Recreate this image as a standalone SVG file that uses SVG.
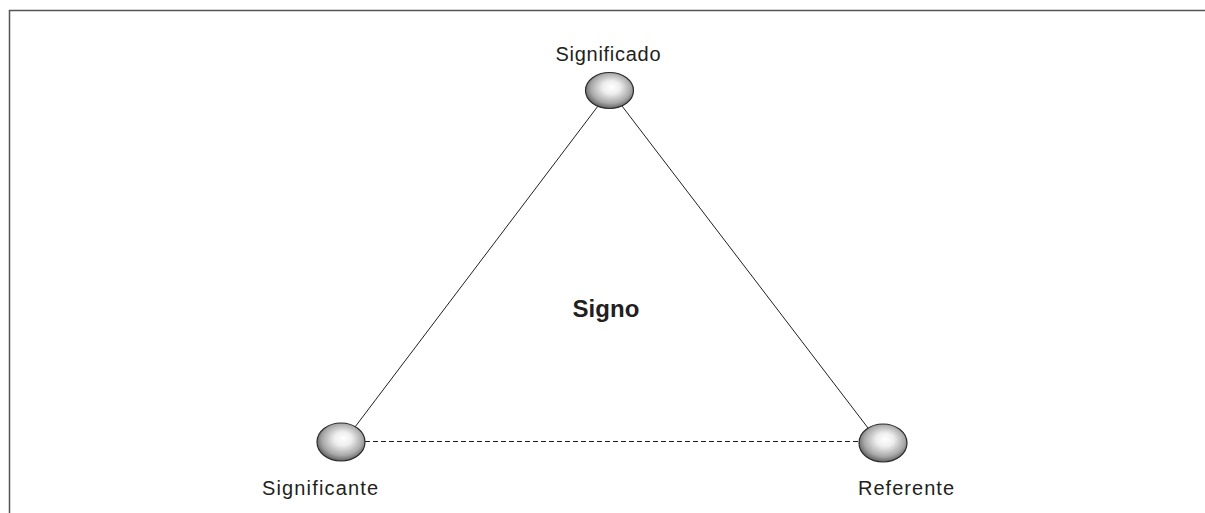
<svg xmlns="http://www.w3.org/2000/svg" width="1205" height="513" viewBox="0 0 1205 513">
<style>
.lbl{font-family:"Liberation Sans",Arial,sans-serif;font-size:20px;fill:#231f20;text-anchor:middle}
.title{font-family:"Liberation Sans",Arial,sans-serif;font-size:24px;font-weight:bold;fill:#231f20;text-anchor:middle}
.node{fill:url(#g);stroke:#2a2a2a;stroke-width:1.2}
.edge{stroke:#231f20;stroke-width:1;fill:none}
</style>
<defs>
<radialGradient id="g" cx="0.52" cy="0.45" r="0.6" fx="0.55" fy="0.4">
<stop offset="0" stop-color="#ffffff"/>
<stop offset="0.3" stop-color="#eeeeee"/>
<stop offset="0.7" stop-color="#a8a8a8"/>
<stop offset="1" stop-color="#4a4a4a"/>
</radialGradient>
</defs>
<rect width="1205" height="513" fill="#ffffff"/>
<path d="M9.5 513 V10.5 H1205" fill="none" stroke="#555" stroke-width="1.5"/>
<g id="connectors">
<line class="edge" x1="598" y1="106" x2="355" y2="427"/>
<line class="edge" x1="622" y1="106" x2="868" y2="428"/>
<line class="edge" x1="365" y1="441.5" x2="859" y2="441.5" stroke-dasharray="5 3"/>
</g>
<g id="significado">
<ellipse class="node" cx="609.5" cy="90.5" rx="24" ry="18"/>
<text class="lbl" x="608" y="61" textLength="105">Significado</text>
</g>
<g id="significante">
<ellipse class="node" cx="341" cy="442" rx="24" ry="19"/>
<text class="lbl" x="320" y="495" textLength="116">Significante</text>
</g>
<g id="referente">
<ellipse class="node" cx="883" cy="443" rx="24" ry="19"/>
<text class="lbl" x="906" y="495" textLength="96">Referente</text>
</g>
<g id="signo">
<text class="title" x="606" y="317" textLength="67">Signo</text>
</g>
</svg>
